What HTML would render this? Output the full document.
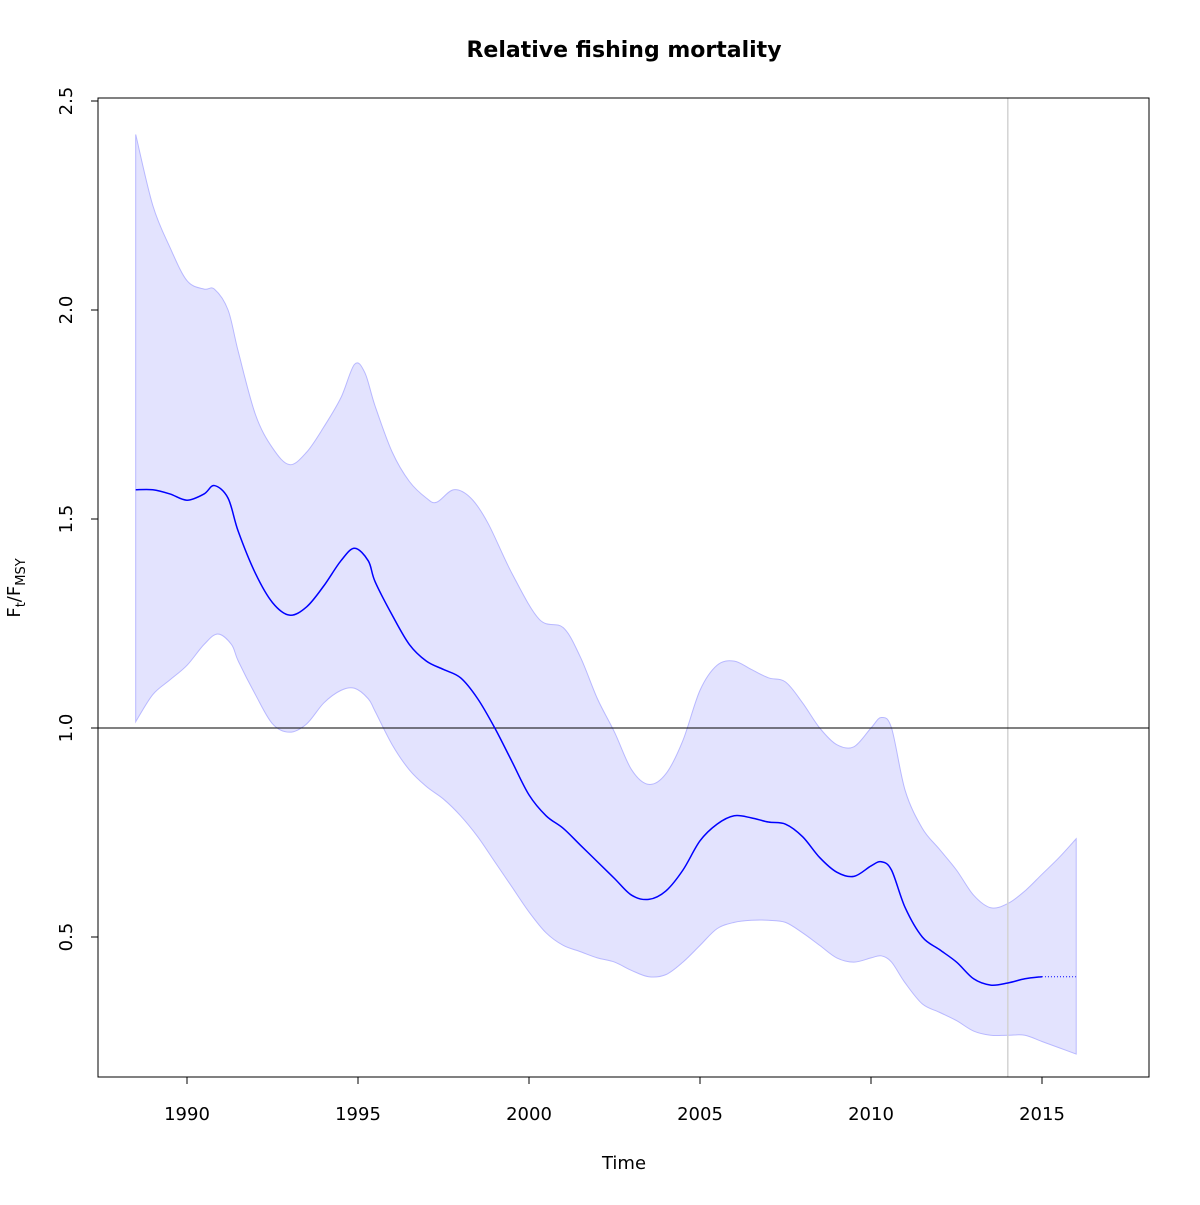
<!DOCTYPE html>
<html><head><meta charset="utf-8"><style>
html,body{margin:0;padding:0;background:#fff}
svg text{font-family:"DejaVu Sans","Liberation Sans",sans-serif;fill:#000}
</style></head><body>
<svg width="1200" height="1200" viewBox="0 0 1200 1200">
<g id="g"></g>
</svg>
<script>
const medT=[1988.5,1989,1989.5,1990,1990.5,1990.8,1991.2,1991.5,1992,1992.5,1993,1993.5,1994,1994.5,1994.9,1995.3,1995.5,1996,1996.5,1997,1997.5,1998,1998.5,1999,1999.5,2000,2000.5,2001,2001.5,2002,2002.5,2003,2003.5,2004,2004.5,2005,2005.5,2006,2006.5,2007,2007.5,2008,2008.5,2009,2009.5,2010,2010.3,2010.6,2011,2011.5,2012,2012.5,2013,2013.5,2014,2014.5,2015];
const medV=[1.57,1.57,1.56,1.545,1.56,1.58,1.55,1.47,1.37,1.30,1.27,1.29,1.34,1.40,1.43,1.40,1.35,1.27,1.20,1.16,1.14,1.12,1.07,1.00,0.92,0.84,0.79,0.76,0.72,0.68,0.64,0.60,0.59,0.61,0.66,0.73,0.77,0.79,0.785,0.775,0.77,0.74,0.69,0.655,0.645,0.67,0.68,0.66,0.57,0.50,0.47,0.44,0.40,0.385,0.39,0.40,0.405];
const projT=[2015,2016];
const projV=[0.405,0.405];
const upT=[1988.5,1989,1989.5,1990,1990.5,1990.8,1991.2,1991.5,1992,1992.5,1993,1993.5,1994,1994.5,1994.9,1995.2,1995.5,1996,1996.5,1997,1997.3,1997.8,1998.3,1998.8,1999.5,2000.3,2001,2001.5,2002,2002.5,2003,2003.5,2004,2004.5,2005,2005.5,2006,2006.5,2007,2007.5,2008,2008.5,2009,2009.5,2010,2010.3,2010.6,2011,2011.5,2012,2012.5,2013,2013.5,2014,2014.5,2015,2015.5,2016];
const upV=[2.42,2.25,2.15,2.07,2.05,2.05,2.0,1.90,1.75,1.67,1.63,1.66,1.72,1.79,1.87,1.85,1.77,1.66,1.59,1.55,1.54,1.57,1.55,1.49,1.37,1.26,1.24,1.17,1.07,0.99,0.90,0.865,0.89,0.97,1.09,1.15,1.16,1.14,1.12,1.11,1.06,1.00,0.96,0.955,1.00,1.025,1.0,0.85,0.76,0.71,0.66,0.60,0.57,0.58,0.61,0.65,0.69,0.735];
const loT=[1988.5,1989,1989.5,1990,1990.5,1990.9,1991.3,1991.5,1992,1992.5,1993,1993.5,1994,1994.5,1994.9,1995.3,1995.5,1996,1996.5,1997,1997.5,1998,1998.5,1999,1999.5,2000,2000.5,2001,2001.5,2002,2002.5,2003,2003.5,2004,2004.5,2005,2005.5,2006,2006.5,2007,2007.5,2008,2008.5,2009,2009.5,2010,2010.3,2010.6,2011,2011.5,2012,2012.5,2013,2013.5,2014,2014.5,2015,2015.5,2016];
const loV=[1.015,1.08,1.115,1.15,1.20,1.225,1.20,1.16,1.08,1.01,0.99,1.01,1.06,1.09,1.095,1.07,1.04,0.96,0.90,0.86,0.83,0.79,0.74,0.68,0.62,0.56,0.51,0.48,0.465,0.45,0.44,0.42,0.405,0.41,0.44,0.48,0.52,0.535,0.54,0.54,0.535,0.51,0.48,0.45,0.44,0.45,0.455,0.44,0.39,0.34,0.32,0.30,0.275,0.265,0.265,0.265,0.25,0.235,0.22];
const xTicks=[1990,1995,2000,2005,2010,2015];
const yTicks=[0.5,1.0,1.5,2.0,2.5];
const refLine=1.0, vLine=2014;

const X=t=>187+(t-1990)*34.2;
const Y=v=>728-(v-1)*418;
const NS="http://www.w3.org/2000/svg";
const g=document.getElementById('g');
function mk(tag,attrs,txt){const e=document.createElementNS(NS,tag);for(const k in attrs)e.setAttribute(k,attrs[k]);if(txt!=null)e.textContent=txt;g.appendChild(e);return e;}
function smooth(pts,move){let d=move?`M${pts[0][0]},${pts[0][1]}`:`L${pts[0][0]},${pts[0][1]}`;
 for(let i=0;i<pts.length-1;i++){const p0=pts[Math.max(i-1,0)],p1=pts[i],p2=pts[i+1],p3=pts[Math.min(i+2,pts.length-1)];
 d+=` C${p1[0]+(p2[0]-p0[0])/6},${p1[1]+(p2[1]-p0[1])/6} ${p2[0]-(p3[0]-p1[0])/6},${p2[1]-(p3[1]-p1[1])/6} ${p2[0]},${p2[1]}`;}return d;}
const up=upT.map((t,i)=>[X(t),Y(upV[i])]);
const lo=loT.map((t,i)=>[X(t),Y(loV[i])]).reverse();
let e=mk('path',{d:smooth(up,true)+smooth(lo,false)+'Z',fill:'#e3e3fe',stroke:'#b8b8ff','stroke-width':1});


e=mk('line',{x1:X(vLine),x2:X(vLine),y1:98,y2:1077,stroke:'#d3d3d3','stroke-width':1.5});


e=mk('line',{x1:98,x2:1149,y1:Y(refLine),y2:Y(refLine),stroke:'#000','stroke-width':1});


e=mk('path',{d:smooth(medT.map((t,i)=>[X(t),Y(medV[i])]),true),fill:'none',stroke:'#0000ff','stroke-width':1.5});


e=mk('path',{d:smooth(projT.map((t,i)=>[X(t),Y(projV[i])]),true),fill:'none',stroke:'#0000ff','stroke-width':1,'stroke-dasharray':'1,2'});


e=mk('rect',{x:98,y:98,width:1051,height:979,fill:'none',stroke:'#000','stroke-width':1});


e=mk('line',{x1:X(xTicks[0]),x2:X(xTicks[xTicks.length-1]),y1:1077,y2:1077,stroke:'#000'});


xTicks.forEach(t=>{const l=mk('line',{x1:X(t),x2:X(t),y1:1077,y2:1084,stroke:'#000'});


const tx=mk('text',{x:X(t),y:1120,'text-anchor':'middle','font-size':18},String(t));

});
yTicks.forEach(v=>{const l=mk('line',{x1:91,x2:98,y1:Y(v),y2:Y(v),stroke:'#000'});


const tx=mk('text',{x:72,y:Y(v),'text-anchor':'middle','font-size':18,transform:`rotate(-90 72 ${Y(v)})`},v.toFixed(1));

});
e=mk('line',{x1:98,x2:98,y1:Y(yTicks[0]),y2:Y(yTicks[yTicks.length-1]),stroke:'#000'});


e=mk('text',{x:624,y:57,'text-anchor':'middle','font-size':22,'font-weight':'bold'},'Relative fishing mortality');


e=mk('text',{x:624,y:1169,'text-anchor':'middle','font-size':18},'Time');


const yt=mk('text',{x:0,y:0,'font-size':18,transform:'translate(20 588) rotate(-90)','text-anchor':'middle'});


yt.innerHTML='F<tspan font-size="13" dy="5">t</tspan><tspan dy="-5">/F</tspan><tspan font-size="13" dy="5">MSY</tspan>';
</script>
</body></html>
